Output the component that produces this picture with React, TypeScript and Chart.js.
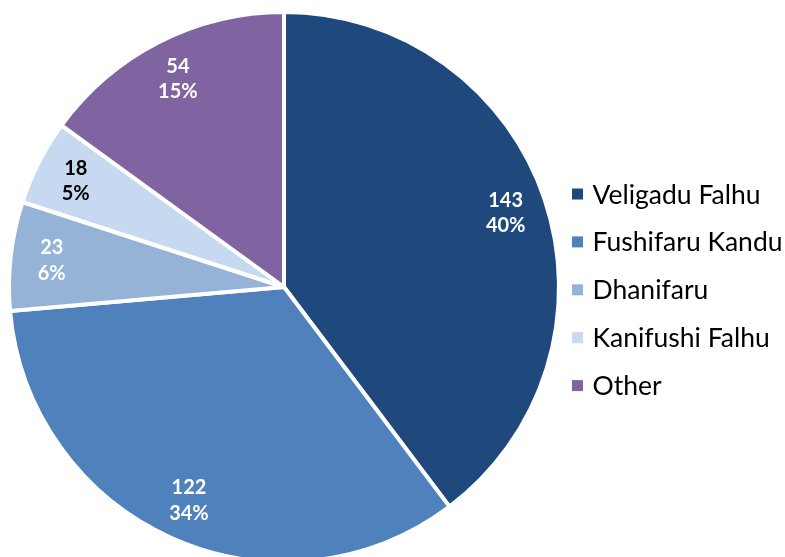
import React, { useEffect, useRef } from "react";
import { Chart, registerables } from "chart.js";

Chart.register(...registerables);

const categories = ["Veligadu Falhu", "Fushifaru Kandu", "Dhanifaru", "Kanifushi Falhu", "Other"];
const values = [143, 122, 23, 18, 54];
const colors = ["#1F497D", "#4F81BD", "#95B3D7", "#C6D9F0", "#8064A2"];
const labelColors = ["#FFFFFF", "#FFFFFF", "#FFFFFF", "#000000", "#FFFFFF"];

const FONT = "Lato, 'Open Sans', sans-serif";

const pieLabels = {
  id: "pieLabels",
  afterDatasetsDraw(chart: any) {
    const ctx = chart.ctx;
    const meta = chart.getDatasetMeta(0);
    const data = chart.data.datasets[0].data as number[];
    const total = data.reduce((a, b) => a + b, 0);
    ctx.save();
    ctx.font = `bold 20px ${FONT}`;
    ctx.textAlign = "center";
    ctx.textBaseline = "middle";
    meta.data.forEach((arc: any, i: number) => {
      const { x, y, startAngle, endAngle, outerRadius } = arc.getProps(
        ["x", "y", "startAngle", "endAngle", "outerRadius"],
        true
      );
      const mid = (startAngle + endAngle) / 2;
      const r = outerRadius * 0.85;
      const cx = x + Math.cos(mid) * r;
      const cy = y + Math.sin(mid) * r;
      ctx.fillStyle = labelColors[i];
      ctx.fillText(String(data[i]), cx, cy - 12.5);
      ctx.fillText(Math.round((data[i] / total) * 100) + "%", cx, cy + 13);
    });
    ctx.restore();
  },
};

const sideLegend = {
  id: "sideLegend",
  afterDraw(chart: any) {
    const ctx = chart.ctx;
    const labels = chart.data.labels as string[];
    const bg = chart.data.datasets[0].backgroundColor as string[];
    const left = 572;
    const top = 194;
    const step = 47.9;
    ctx.save();
    ctx.font = `26.5px ${FONT}`;
    ctx.textAlign = "left";
    ctx.textBaseline = "middle";
    labels.forEach((lab, i) => {
      const yy = top + step * i;
      ctx.fillStyle = bg[i];
      ctx.fillRect(left, yy - 5.5, 11, 11);
      ctx.fillStyle = "#000000";
      ctx.fillText(lab, left + 20.5, yy + 1);
    });
    ctx.restore();
  },
};

export default function App() {
  const ref = useRef<HTMLCanvasElement>(null);
  useEffect(() => {
    if (!ref.current) return;
    const chart = new Chart(ref.current, {
      type: "pie",
      data: {
        labels: categories,
        datasets: [
          {
            data: values,
            backgroundColor: colors,
            borderColor: "#FFFFFF",
            borderWidth: 4,
          },
        ],
      },
      options: {
        responsive: false,
        animation: false,
        devicePixelRatio: 1,
        layout: { padding: { left: 7, right: 224, top: 10, bottom: 10 } },
        plugins: {
          legend: { display: false },
          tooltip: { enabled: false },
        },
      },
      plugins: [pieLabels, sideLegend],
    });
    return () => chart.destroy();
  }, []);
  return (
    <div style={{ position: "fixed", left: 0, top: 0, width: 785, height: 574, background: "#fff" }}>
      <canvas ref={ref} width={785} height={574} style={{ display: "block" }} />
    </div>
  );
}
